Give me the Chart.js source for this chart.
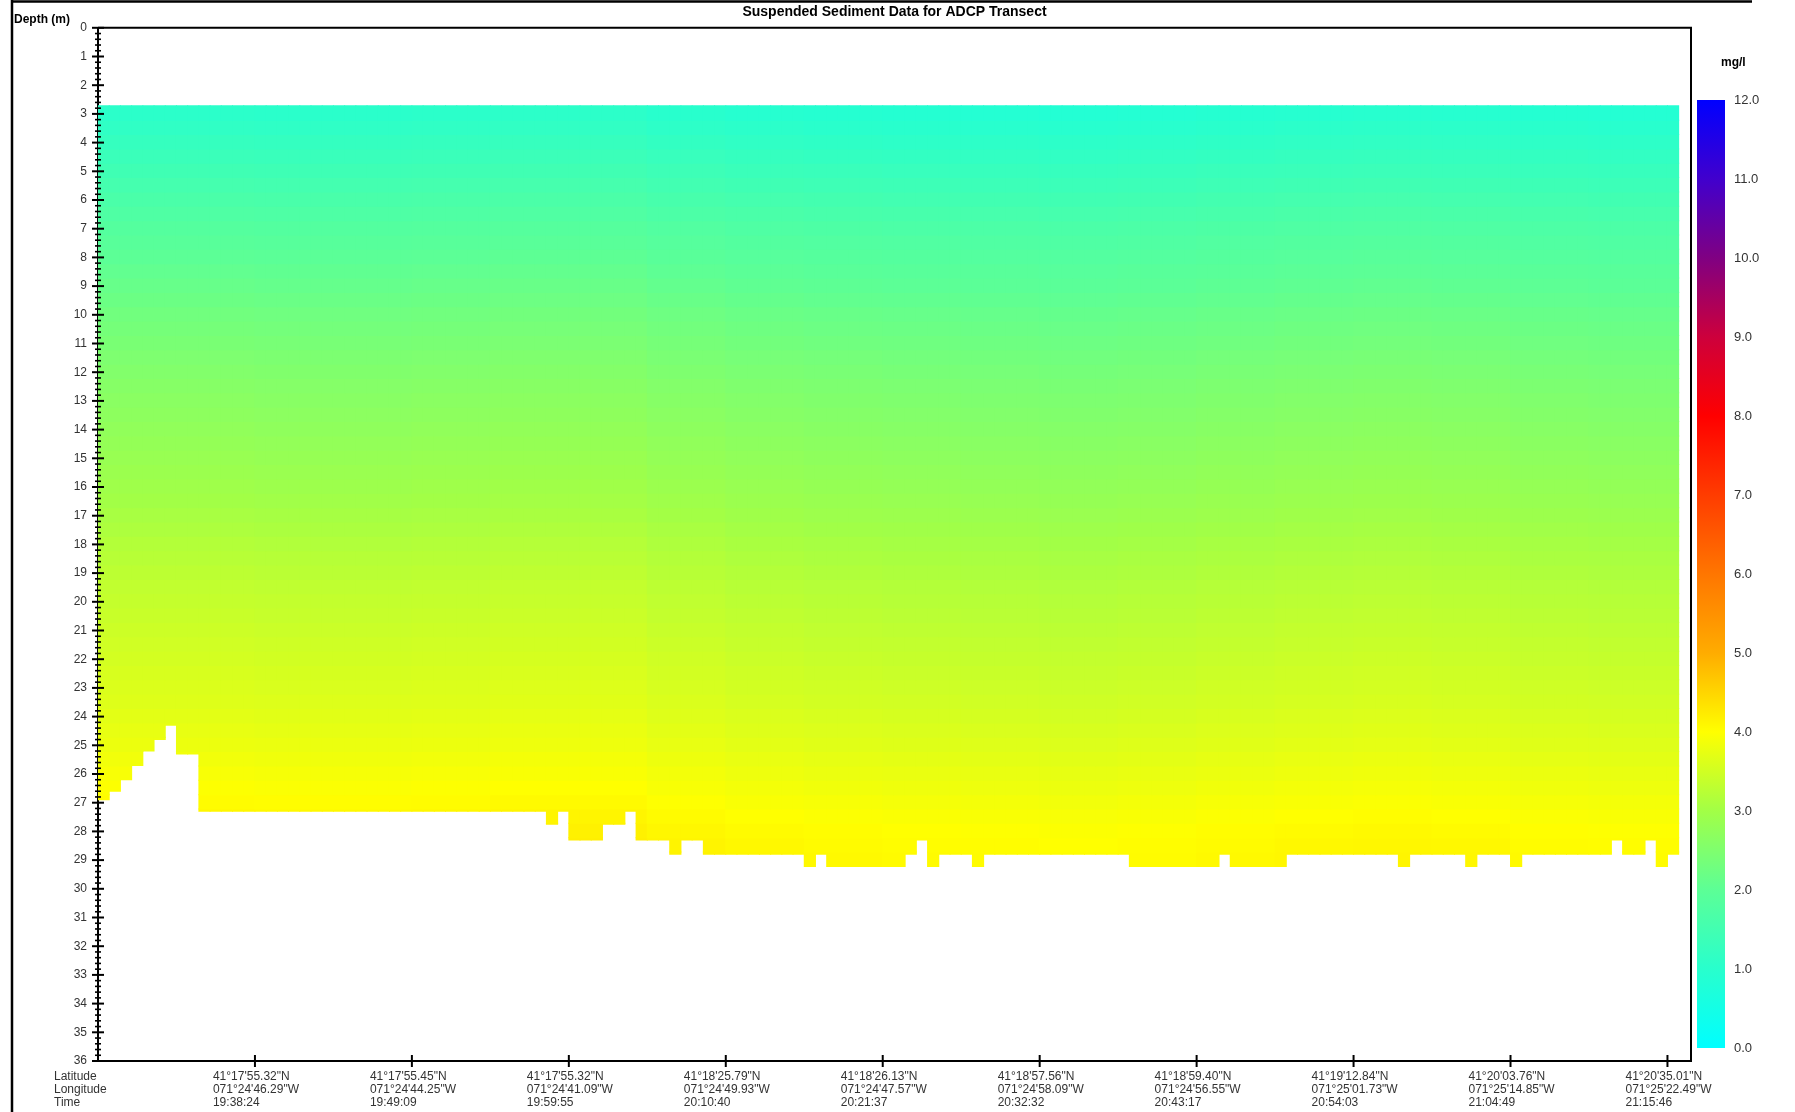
<!DOCTYPE html>
<html><head><meta charset="utf-8">
<script src="https://cdn.jsdelivr.net/npm/chart.js@4.4.1/dist/chart.umd.min.js"></script>
<style>html,body{margin:0;padding:0;background:#fff;overflow:hidden}canvas{display:block}</style>
</head><body>
<canvas id="c" width="1795" height="1112"></canvas>
<script>
// ---------------- DATA ----------------
const chartTitle = 'Suspended Sediment Data for ADCP Transect';
const depthAxisLabel = 'Depth (m)';
const unitLabel = 'mg/l';
const rowLabels = ['Latitude', 'Longitude', 'Time'];

// x axis: ensemble index; labelled ticks every 14 ensembles
const tickEnsembles = [14, 28, 42, 56, 70, 84, 98, 112, 126, 140];
const tickLatitude = [`41°17'55.32"N`, `41°17'55.45"N`, `41°17'55.32"N`, `41°18'25.79"N`, `41°18'26.13"N`,
                      `41°18'57.56"N`, `41°18'59.40"N`, `41°19'12.84"N`, `41°20'03.76"N`, `41°20'35.01"N`];
const tickLongitude = [`071°24'46.29"W`, `071°24'44.25"W`, `071°24'41.09"W`, `071°24'49.93"W`, `071°24'47.57"W`,
                       `071°24'58.09"W`, `071°24'56.55"W`, `071°25'01.73"W`, `071°25'14.85"W`, `071°25'22.49"W`];
const tickTime = ['19:38:24', '19:49:09', '19:59:55', '20:10:40', '20:21:37',
                  '20:32:32', '20:43:17', '20:54:03', '21:04:49', '21:15:46'];
const xAxisMax = 142.1;

// y axis: depth (m)
const depthTickValues = [0,1,2,3,4,5,6,7,8,9,10,11,12,13,14,15,16,17,18,19,20,21,22,23,24,25,26,27,28,29,30,31,32,33,34,35,36];

// depth bins of the ADCP profile
const firstBinTop = 2.72;
const binHeight = 0.5;
// mean suspended sediment (mg/l) for each 0.5 m bin, centres 3.0 ... 29.0 m
const concProfile = [
  0.95, 1.05, 1.15, 1.25, 1.35, 1.45, 1.55, 1.65, 1.75, 1.83,
  1.90, 1.98, 2.05, 2.12, 2.20, 2.26, 2.32, 2.38, 2.44, 2.50,
  2.55, 2.60, 2.65, 2.70, 2.75, 2.80, 2.85, 2.90, 2.96, 3.02,
  3.08, 3.13, 3.18, 3.23, 3.27, 3.31, 3.35, 3.39, 3.43, 3.47,
  3.51, 3.55, 3.60, 3.65, 3.70, 3.76, 3.82, 3.88, 3.94, 4.00,
  4.05, 4.08, 4.10
];
// along-track adjustment (mg/l), one value per group of 7 ensembles
const columnsPerShift = 7;
const columnShift = [0.10, 0.10, 0.08, 0.08, 0.10, 0.12, 0.12, 0.05, 0.00, -0.03, -0.05,
                     -0.06, -0.08, -0.06, -0.03, 0.00, 0.02, 0.00, -0.04, -0.06, -0.06];
// depth of the last valid bin (bottom) for each ensemble
const bottomDepth = [
  26.9, 26.6, 26.2, 25.7, 25.2, 24.8, 24.3, 25.3, 25.3,
  27.3, 27.3, 27.3, 27.3, 27.3, 27.3, 27.3, 27.3, 27.3, 27.3,
  27.3, 27.3, 27.3, 27.3, 27.3, 27.3, 27.3, 27.3, 27.3, 27.3,
  27.3, 27.3, 27.3, 27.3, 27.3, 27.3, 27.3, 27.3, 27.3, 27.3, 27.3,
  27.75, 27.3, 28.3, 28.3, 28.3, 27.75, 27.75, 27.3, 28.3, 28.3, 28.3, 28.8, 28.3, 28.3,
  28.8, 28.8, 28.8, 28.8, 28.8, 28.8, 28.8, 28.8, 28.8,
  29.3, 28.8,
  29.3, 29.3, 29.3, 29.3, 29.3, 29.3, 29.3,
  28.8, 28.3, 29.3, 28.8, 28.8, 28.8, 29.3,
  28.8, 28.8, 28.8, 28.8, 28.8, 28.8, 28.8, 28.8, 28.8, 28.8, 28.8, 28.8, 28.8,
  29.3, 29.3, 29.3, 29.3, 29.3, 29.3, 29.3, 29.3,
  28.8,
  29.3, 29.3, 29.3, 29.3, 29.3,
  28.8, 28.8, 28.8, 28.8, 28.8, 28.8, 28.8, 28.8, 28.8, 28.8,
  29.3,
  28.8, 28.8, 28.8, 28.8, 28.8,
  29.3,
  28.8, 28.8, 28.8,
  29.3,
  28.8, 28.8, 28.8, 28.8, 28.8, 28.8, 28.8, 28.8,
  28.3, 28.8, 28.8, 28.3, 29.3, 28.8
];

// colour scale (mg/l -> rgb)
const colorStopValues = [0, 1, 2, 3, 4, 5, 6, 7, 8, 9, 10, 11, 12];
const colorStopRGB = [
  [0,255,255], [40,255,205], [92,255,150], [162,255,70], [255,255,0], [255,172,0], [255,118,0],
  [255,60,0], [255,0,0], [205,0,60], [128,0,130], [65,0,205], [0,0,255]
];
const colorbarTicks = [0, 1, 2, 3, 4, 5, 6, 7, 8, 9, 10, 11, 12];

// ---------------- BUILD ----------------
const FONT = '"Liberation Sans", Arial, Helvetica, sans-serif';

function rgbFor(v) {
  v = Math.max(colorStopValues[0], Math.min(colorStopValues[colorStopValues.length - 1], v));
  let i = 0;
  while (i < colorStopValues.length - 2 && v > colorStopValues[i + 1]) i++;
  const t = (v - colorStopValues[i]) / (colorStopValues[i + 1] - colorStopValues[i]);
  const a = colorStopRGB[i], b = colorStopRGB[i + 1];
  return [0, 1, 2].map(k => Math.round(a[k] + (b[k] - a[k]) * t));
}
function colorFor(v) { const c = rgbFor(v); return `rgb(${c[0]},${c[1]},${c[2]})`; }

const nCols = bottomDepth.length;
const datasets = concProfile.map((val, b) => {
  const top = firstBinTop + b * binHeight;
  const data = [], colors = [];
  for (let c = 0; c < nCols; c++) {
    if (top >= bottomDepth[c] - 1e-9) continue;
    const bot = Math.min(top + binHeight, bottomDepth[c]);
    data.push({ x: c + 0.5, y: [top, bot] });
    colors.push(colorFor(val + columnShift[Math.floor(c / columnsPerShift)]));
  }
  return { data, backgroundColor: colors, borderWidth: 0, grouped: false,
           barPercentage: 1, categoryPercentage: 1, inflateAmount: 0.5 };
});

function line(ctx, x1, y1, x2, y2) { ctx.beginPath(); ctx.moveTo(x1, y1); ctx.lineTo(x2, y2); ctx.stroke(); }

const overlay = {
  id: 'overlay',
  afterDraw(chart) {
    const { ctx, chartArea: a, scales: { x, y } } = chart;
    ctx.save();
    ctx.strokeStyle = '#000';
    // outer frame (left + top)
    ctx.lineWidth = 2.5;
    line(ctx, 12, 0, 12, 1112);
    line(ctx, 12, 1.5, 1752, 1.5);
    // plot frame top + right
    ctx.lineWidth = 2;
    ctx.beginPath(); ctx.moveTo(a.left, a.top); ctx.lineTo(a.right, a.top); ctx.lineTo(a.right, a.bottom); ctx.stroke();
    // depth ticks (major at each metre, minor every 0.2 m)
    for (let i = 0; i <= 36 * 5; i++) {
      const py = y.getPixelForValue(i / 5);
      const major = i % 5 === 0;
      ctx.lineWidth = major ? 2 : 1.6;
      const h = major ? 6 : 3;
      line(ctx, a.left - h, py, a.left + h, py);
    }
    // x ticks and labels
    ctx.fillStyle = '#333';
    ctx.font = '12px ' + FONT;
    ctx.textAlign = 'left';
    ctx.textBaseline = 'middle';
    const rowY = [a.bottom + 16, a.bottom + 29, a.bottom + 42];
    rowLabels.forEach((t, r) => ctx.fillText(t, 54, rowY[r]));
    tickEnsembles.forEach((t, k) => {
      const px = x.getPixelForValue(t);
      ctx.lineWidth = 2;
      line(ctx, px, a.bottom - 6, px, a.bottom + 6);
      const lx = px - 42;
      ctx.fillText(tickLatitude[k], lx, rowY[0]);
      ctx.fillText(tickLongitude[k], lx, rowY[1]);
      ctx.fillText(tickTime[k], lx, rowY[2]);
    });
    // depth label
    ctx.fillStyle = '#000';
    ctx.font = 'bold 12px ' + FONT;
    ctx.fillText(depthAxisLabel, 14, 20);
    // colour bar
    const cbX = 1697, cbW = 28, cbTop = 100, cbBot = 1048;
    const cbY = v => cbBot - (v - colorbarTicks[0]) / (colorbarTicks[colorbarTicks.length - 1] - colorbarTicks[0]) * (cbBot - cbTop);
    const g = ctx.createLinearGradient(0, cbBot, 0, cbTop);
    colorStopValues.forEach((v, i) => {
      const c = colorStopRGB[i];
      g.addColorStop(v / colorStopValues[colorStopValues.length - 1], `rgb(${c[0]},${c[1]},${c[2]})`);
    });
    ctx.fillStyle = g;
    ctx.fillRect(cbX, cbTop, cbW, cbBot - cbTop);
    ctx.fillStyle = '#333';
    ctx.font = '13px ' + FONT;
    colorbarTicks.forEach(v => ctx.fillText(v.toFixed(1), 1734, cbY(v)));
    ctx.fillStyle = '#000';
    ctx.font = 'bold 12px ' + FONT;
    ctx.fillText(unitLabel, 1721, 63);
    ctx.restore();
  }
};

new Chart(document.getElementById('c').getContext('2d'), {
  type: 'bar',
  data: { datasets },
  options: {
    responsive: false, animation: false, devicePixelRatio: 1, events: [],
    layout: { padding: { left: 0, right: 104, top: 0, bottom: 0 } },
    plugins: {
      legend: { display: false },
      tooltip: { enabled: false },
      title: { display: true, text: chartTitle, fullSize: false, color: '#000',
               font: { family: FONT, size: 14, weight: 'bold' }, padding: { top: 4, bottom: 7 } }
    },
    scales: {
      x: {
        type: 'linear', min: 0, max: xAxisMax, offset: false,
        afterFit(s) { s.height = 51; },
        afterBuildTicks(s) { s.ticks = tickEnsembles.map(v => ({ value: v })); },
        ticks: { display: false },
        grid: { display: true, offset: false, drawOnChartArea: false, drawTicks: false },
        border: { display: true, color: '#000', width: 2 }
      },
      y: {
        type: 'linear', reverse: true, min: 0, max: 36,
        afterFit(s) { s.width = 98; },
        afterBuildTicks(s) { s.ticks = depthTickValues.map(v => ({ value: v })); },
        ticks: { autoSkip: false, padding: 11, color: '#333', font: { family: FONT, size: 12 } },
        grid: { display: true, drawOnChartArea: false, drawTicks: false },
        border: { display: true, color: '#000', width: 2 }
      }
    }
  },
  plugins: [overlay]
});
</script>
</body></html>
